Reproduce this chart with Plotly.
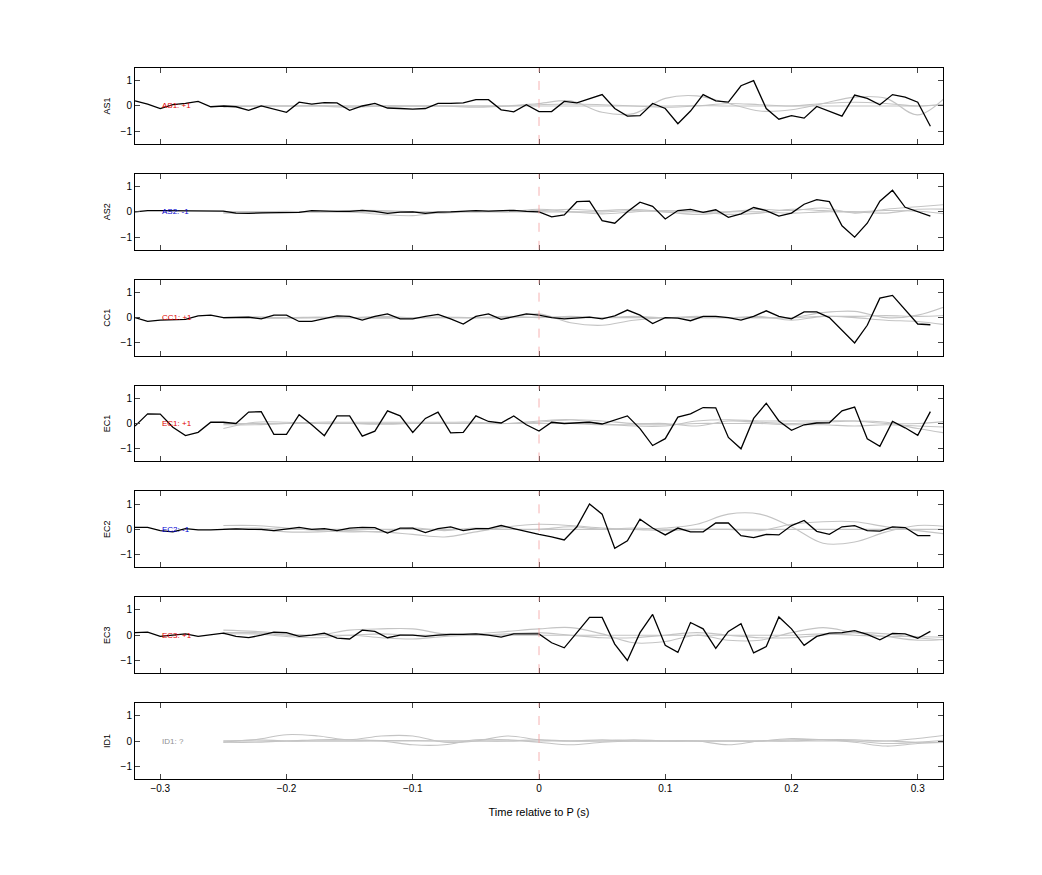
import plotly.graph_objects as go
from plotly.subplots import make_subplots

stations = ["AS1", "AS2", "CC1", "EC1", "EC2", "EC3", "ID1"]
labels = ["AS1: +1", "AS2: -1", "CC1: +1", "EC1: +1", "EC2: -1", "EC3: +1", "ID1: ?"]
label_colors = ["#e00000", "#0000d0", "#e00000", "#e00000", "#0000d0", "#e00000", "#909090"]

# black traces, one sample every 0.01 s from -0.32 to 0.31
t = [round(-0.32 + 0.01 * i, 2) for i in range(64)]

as1 = [0.2, 0.07, -0.1, 0.05, 0.1, 0.18, -0.03, 0.0, -0.03, -0.17, 0.0, -0.12, -0.25, 0.15, 0.07, 0.13,
       0.12, -0.17, 0.0, 0.1, -0.08, -0.1, -0.12, -0.1, 0.1, 0.1, 0.12, 0.25, 0.25, -0.15, -0.23, 0.05,
       -0.22, -0.22, 0.18, 0.12, 0.3, 0.45, -0.1, -0.4, -0.38, 0.1, -0.1, -0.7, -0.2, 0.45, 0.2, 0.15,
       0.8, 1.0, -0.1, -0.52, -0.38, -0.48, -0.02, -0.2, -0.4, 0.43, 0.3, 0.05, 0.45, 0.35, 0.15, -0.8]
as2 = [0.0, 0.05, 0.05, 0.04, 0.04, 0.04, 0.04, 0.03, -0.05, -0.06, -0.04, -0.03, -0.04, -0.02, 0.05, 0.03,
       0.02, 0.02, 0.06, 0.02, -0.06, -0.01, 0.0, -0.06, -0.01, 0.0, 0.01, 0.05, 0.03, 0.04, 0.06, 0.02,
       0.0, -0.2, -0.12, 0.4, 0.42, -0.35, -0.45, 0.0, 0.38, 0.22, -0.28, 0.05, 0.1, -0.02, 0.08, -0.22,
       -0.08, 0.17, 0.05, -0.17, -0.05, 0.3, 0.48, 0.4, -0.55, -1.0, -0.45, 0.42, 0.85, 0.18, 0.0, -0.17]
cc1 = [0.0, -0.15, -0.1, -0.08, -0.07, 0.07, 0.1, 0.0, 0.0, 0.02, -0.05, 0.1, 0.1, -0.15, -0.15, -0.05,
       0.07, 0.05, -0.1, 0.05, 0.15, -0.05, -0.05, 0.05, 0.13, -0.05, -0.25, 0.05, 0.15, -0.07, 0.05, 0.15,
       0.1, 0.0, -0.05, 0.0, 0.02, -0.05, 0.07, 0.3, 0.1, -0.23, 0.0, -0.02, -0.12, 0.05, 0.05, 0.0,
       -0.1, 0.05, 0.27, 0.05, -0.05, 0.23, 0.23, 0.0, -0.5, -1.0, -0.3, 0.77, 0.88, 0.3, -0.25, -0.28]
ec1 = [-0.1, 0.38, 0.37, -0.15, -0.48, -0.35, 0.05, 0.05, 0.0, 0.45, 0.47, -0.43, -0.43, 0.35, -0.05, -0.48,
       0.3, 0.3, -0.5, -0.3, 0.5, 0.3, -0.35, 0.2, 0.45, -0.37, -0.35, 0.3, 0.08, 0.02, 0.3, -0.05,
       -0.3, 0.05, 0.0, 0.03, 0.05, -0.02, 0.15, 0.3, -0.2, -0.87, -0.6, 0.25, 0.38, 0.63, 0.62, -0.55,
       -1.0, 0.2, 0.8, 0.1, -0.27, -0.05, 0.02, 0.03, 0.5, 0.65, -0.6, -0.9, 0.08, -0.17, -0.47, 0.47]
ec2 = [0.08, 0.08, -0.05, -0.1, 0.03, -0.02, -0.02, 0.0, 0.02, 0.0, 0.0, -0.05, 0.02, 0.08, 0.0, 0.03,
       -0.05, 0.05, 0.08, 0.07, -0.15, 0.05, 0.05, -0.13, 0.03, 0.1, -0.05, 0.03, 0.03, 0.15, 0.03, -0.1,
       -0.2, -0.3, -0.42, 0.1, 1.0, 0.6, -0.75, -0.45, 0.4, 0.05, -0.22, 0.05, -0.1, -0.1, 0.25, 0.25,
       -0.25, -0.33, -0.2, -0.22, 0.15, 0.35, -0.08, -0.2, 0.1, 0.15, -0.05, -0.07, 0.1, 0.07, -0.25, -0.25]
ec3 = [0.1, 0.12, -0.05, 0.0, 0.05, -0.05, 0.03, 0.08, -0.05, -0.1, 0.0, 0.12, 0.1, -0.05, 0.0, 0.08,
       -0.12, -0.15, 0.2, 0.15, -0.1, 0.0, 0.0, -0.05, 0.0, 0.03, 0.03, 0.05, 0.0, -0.08, 0.05, 0.05,
       0.05, -0.3, -0.5, 0.1, 0.7, 0.7, -0.35, -1.0, 0.1, 0.82, -0.4, -0.68, 0.5, 0.25, -0.52, 0.15,
       0.45, -0.7, -0.45, 0.72, 0.25, -0.4, -0.05, 0.08, 0.1, 0.18, 0.03, -0.18, 0.07, 0.05, -0.12, 0.15]
black = [as1, as2, cc1, ec1, ec2, ec3, None]

# grey traces (smoothed), one value every 0.025 s from -0.25 to 0.325
tg = [round(-0.25 + 0.025 * i, 3) for i in range(24)]
grey = [
    [[0, 0, 0, 0, 0, 0, 0, 0, 0, 0, 0.1, 0.2, -0.25, -0.3, 0.3, 0.4, 0.1, -0.2, -0.15, 0.1, 0.35, 0.3, -0.35, 0.5],
     [0, 0, 0, 0.02, 0, 0, 0, 0, 0, 0, 0.05, 0.08, 0.05, 0, -0.05, 0, 0.1, 0.05, 0.0, 0.1, 0.15, 0.1, 0.0, 0.1],
     [-0.05, 0, 0, 0, -0.05, 0, 0, 0, -0.05, 0, 0, 0, 0, 0, 0, 0.02, 0, 0, 0, 0, 0, 0, 0, 0.05]],
    [[-0.05, -0.05, 0, 0, 0, -0.1, -0.15, 0, 0, 0.05, 0.05, 0.1, 0.05, 0.1, 0.0, -0.1, 0.0, 0.1, 0.05, 0.15, -0.05, 0.1, 0.2, 0.3],
     [0, 0, 0.02, 0, 0.05, 0.05, 0, -0.05, 0.03, 0, 0.1, 0, -0.08, 0, 0.05, 0, -0.1, -0.05, 0.1, 0.05, 0.0, -0.05, 0.1, 0.1],
     [0, 0, 0, 0, 0, 0, 0, 0, 0, 0, 0, 0, 0, 0.05, 0, 0, 0, 0, -0.05, 0, 0, 0.05, 0.02, -0.1]],
    [[0, 0, 0, 0, 0, 0, 0, 0, 0, 0, 0.15, -0.2, -0.3, -0.1, 0, 0, 0, 0, 0, 0.2, 0.25, 0.0, 0.1, 0.5],
     [0, 0.03, 0, 0.02, 0, 0.05, 0, 0.02, 0, 0.05, 0, 0.05, 0, 0.05, 0, 0.05, 0, 0.05, -0.1, 0.05, 0.0, -0.1, -0.15, -0.3],
     [-0.03, -0.03, -0.02, 0, 0, -0.02, 0, 0, 0, 0, 0.02, 0, 0, 0, 0, 0, 0, 0, 0, 0.05, 0.05, 0.08, 0.05, 0.1]],
    [[-0.2, 0.05, 0.05, 0, 0, 0, 0, 0, 0, 0, 0.05, 0.15, 0.1, 0, 0, -0.1, 0.1, 0.05, 0.0, 0.05, 0.1, 0.05, -0.2, -0.4],
     [0, 0, 0, 0.05, 0.05, 0.05, 0.05, 0.05, 0.05, 0.0, 0.1, 0.15, 0.0, -0.1, -0.1, 0.1, 0.15, 0.1, 0.1, 0.1, 0.1, 0.0, 0.0, 0.1],
     [-0.05, -0.05, 0, 0, 0, -0.03, 0, 0, 0, 0, 0, 0, -0.05, -0.05, -0.05, 0, 0, 0, -0.05, -0.05, -0.1, -0.05, -0.1, -0.15]],
    [[0.15, 0.15, 0.05, -0.05, -0.1, -0.1, -0.2, -0.3, -0.1, 0.1, 0.2, 0.15, 0.05, 0.0, 0.05, 0.2, 0.6, 0.6, 0.1, -0.55, -0.5, -0.1, 0.15, 0.1],
     [0, 0, -0.1, -0.1, -0.05, -0.1, 0.05, -0.05, 0.05, 0.0, 0.0, 0.1, 0.0, 0.0, -0.05, 0.0, 0.0, -0.05, 0.2, 0.3, 0.3, 0.1, -0.05, -0.2],
     [0, 0.05, 0, 0, 0, 0, 0, 0, 0, 0, 0, 0, 0, 0.05, 0, 0, 0, 0, 0, 0, 0, 0, 0, 0]],
    [[0.2, 0.15, 0.05, 0.0, 0.2, 0.25, 0.25, 0.05, 0.05, 0.15, 0.25, 0.3, 0.05, -0.3, -0.25, 0.0, -0.2, -0.2, 0.1, 0.3, 0.1, -0.05, -0.2, -0.15],
     [0.05, 0.05, -0.05, -0.1, 0.0, -0.1, -0.15, -0.05, 0, 0.05, 0.1, 0.0, -0.1, -0.1, 0.0, 0.1, 0.0, -0.1, -0.1, 0.0, 0.1, 0.05, -0.1, -0.2],
     [0.1, 0.1, 0, 0, 0, 0.05, 0, 0, 0, 0, 0, 0, 0, 0, 0, 0, 0, 0, 0, 0.05, 0, -0.05, -0.05, -0.1]],
    [[0.0, 0.05, 0.25, 0.2, 0.05, 0.2, 0.2, -0.05, 0.0, 0.2, 0.05, 0.0, 0.0, 0.05, 0.0, 0.0, 0.0, 0.0, 0.0, 0.05, 0.05, 0.0, 0.1, 0.25],
     [-0.05, 0.05, 0.0, 0.0, 0.0, 0.0, -0.15, -0.15, 0.05, 0.05, -0.05, -0.15, -0.05, 0.0, 0.0, 0.0, -0.15, 0.0, 0.05, 0.05, -0.05, -0.2, -0.1, -0.05],
     [0.0, 0.0, 0.0, 0.05, 0.05, 0.02, 0.02, 0.0, 0.0, 0.0, 0.05, 0.0, 0.05, 0.0, 0.0, 0.0, 0.0, 0.0, 0.1, 0.05, 0.0, -0.1, -0.05, 0.05],
     [-0.05, -0.05, 0.0, 0.0, 0.0, 0.0, 0.0, 0.0, 0.0, 0.0, 0.0, 0.0, 0.0, 0.0, 0.0, 0.0, 0.0, 0.0, 0.0, 0.0, 0.0, 0.0, -0.05, -0.05]],
]

fig = make_subplots(rows=7, cols=1, shared_xaxes=True, vertical_spacing=0.042)

for i, st in enumerate(stations):
    r = i + 1
    for g in grey[i]:
        fig.add_trace(go.Scatter(x=tg, y=g, mode="lines", line=dict(color="#c4c4c4", width=1.1, shape="spline"),
                                 showlegend=False, hoverinfo="skip"), row=r, col=1)
    if black[i] is not None:
        fig.add_trace(go.Scatter(x=t, y=black[i], mode="lines", line=dict(color="black", width=1.3),
                                 showlegend=False), row=r, col=1)
    fig.add_annotation(x=-0.3, y=0, text=labels[i], showarrow=False, xanchor="left",
                       font=dict(size=8, color=label_colors[i]), row=r, col=1)
    fig.add_shape(type="line", x0=0, x1=0, y0=-1.5, y1=1.5, line=dict(color="#f4a0a0", width=0.8, dash="dash"),
                  row=r, col=1)
    fig.update_yaxes(title_text=st, title_font=dict(size=9), title_standoff=8, range=[-1.5, 1.5],
                     tickvals=[-1, 0, 1], row=r, col=1)

fig.update_xaxes(range=[-0.32, 0.32], tickvals=[-0.3, -0.2, -0.1, 0, 0.1, 0.2, 0.3],
                 ticks="inside", ticklen=5, showline=True, linecolor="black", linewidth=1, mirror="ticks",
                 showgrid=False, zeroline=False, tickfont=dict(size=10))
fig.update_yaxes(ticks="inside", ticklen=5, showline=True, linecolor="black", linewidth=1, mirror="ticks",
                 showgrid=False, zeroline=False, tickfont=dict(size=10))
fig.update_xaxes(title_text="Time relative to P (s)", title_font=dict(size=11), row=7, col=1)

fig.update_layout(width=1042, height=875, margin=dict(l=127, r=107, t=60, b=104),
                  plot_bgcolor="white", paper_bgcolor="white",
                  font=dict(family="Liberation Sans, Arial, sans-serif", color="black"))

fig.write_html("out.html")
